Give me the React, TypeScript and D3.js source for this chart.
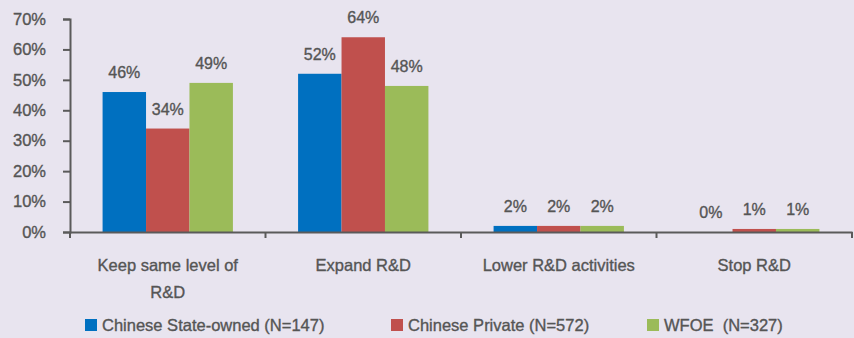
import React, { useEffect, useRef } from 'react';
import * as d3 from 'd3';

const categories = ['Keep same level of|R&D', 'Expand R&D', 'Lower R&D activities', 'Stop R&D'];
const seriesNames = ['Chinese State-owned (N=147)', 'Chinese Private (N=572)', 'WFOE  (N=327)'];
const stateOwned = [46, 52, 2, 0];
const privateCo = [34, 64, 2, 1];
const wfoe = [49, 48, 2, 1];
const yTicks = [0, 10, 20, 30, 40, 50, 60, 70];
const colors = ['#0070c0', '#c0504d', '#9bbb59'];

const App: React.FC = () => {
  const svgRef = useRef<SVGSVGElement | null>(null);

  useEffect(() => {
    if (!svgRef.current) return;
    document.body.style.margin = '0';

    const width = 854;
    const height = 338;
    const margin = { top: 19, right: 2, bottom: 106, left: 70 };
    const font = '"Liberation Sans", Arial, sans-serif';
    const textColor = '#555555';
    const series = [stateOwned, privateCo, wfoe];

    const svg = d3.select(svgRef.current).attr('width', width).attr('height', height);
    svg.selectAll('*').remove();

    svg.append('rect').attr('width', width).attr('height', height).attr('fill', '#e8e4ef');

    // shared text styling: a thin stroke thickens the glyphs a little
    const styleText = (sel: any, size: number) =>
      sel
        .attr('font-family', font)
        .attr('font-size', size)
        .attr('fill', textColor)
        .attr('stroke', textColor)
        .attr('stroke-width', 0.35);

    const x = d3
      .scaleBand()
      .domain(categories)
      .range([margin.left, width - margin.right]);
    const inner = d3
      .scaleBand()
      .domain(['0', '1', '2'])
      .range([0, x.bandwidth()])
      .paddingOuter(0.75);
    const y = d3
      .scaleLinear()
      .domain([0, 70])
      .range([height - margin.bottom, margin.top]);

    // bars
    series.forEach((vals, si) => {
      const g = svg.append('g');
      g.selectAll('rect')
        .data(vals)
        .enter()
        .append('rect')
        .attr('x', (_, i) => (x(categories[i]) as number) + (inner(String(si)) as number))
        .attr('y', (d) => y(d))
        .attr('width', inner.bandwidth())
        .attr('height', (d) => y(0) - y(d))
        .attr('fill', colors[si]);
      const labels = g
        .selectAll('text')
        .data(vals)
        .enter()
        .append('text')
        .attr('x', (_, i) => (x(categories[i]) as number) + (inner(String(si)) as number) + inner.bandwidth() / 2)
        .attr('y', (d) => y(d) - 14)
        .attr('text-anchor', 'middle')
        .text((d) => `${d}%`);
      styleText(labels, 16);
    });

    const axisColor = '#5a5a5a';

    // y axis
    const yAxis = svg
      .append('g')
      .attr('transform', `translate(${margin.left},0)`)
      .call(d3.axisLeft(y).tickValues(yTicks).tickSize(7).tickPadding(17).tickFormat((d) => `${d}%`));
    yAxis.select('.domain').attr('stroke', axisColor).attr('stroke-width', 2);
    yAxis.selectAll('.tick line').attr('stroke', axisColor).attr('stroke-width', 2);
    styleText(yAxis.selectAll('.tick text'), 16.5);

    // x axis
    const xAxis = svg
      .append('g')
      .attr('transform', `translate(0,${y(0)})`)
      .call(d3.axisBottom(x).tickSize(0).tickFormat(() => ''));
    xAxis.select('.domain').attr('stroke', axisColor).attr('stroke-width', 2);
    xAxis.selectAll('.tick').remove();
    const edges = [...categories.map((c) => x(c) as number), width - margin.right];
    xAxis
      .selectAll('line.edge')
      .data(edges)
      .enter()
      .append('line')
      .attr('class', 'edge')
      .attr('x1', (d) => d)
      .attr('x2', (d) => d)
      .attr('y1', 0)
      .attr('y2', 6)
      .attr('stroke', axisColor)
      .attr('stroke-width', 2);

    // category labels
    categories.forEach((c) => {
      const lines = c.split('|');
      const t = svg.append('text').attr('text-anchor', 'middle');
      styleText(t, 16.5);
      lines.forEach((ln, li) => {
        t.append('tspan')
          .attr('x', (x(c) as number) + x.bandwidth() / 2)
          .attr('y', 271 + li * 26.5)
          .text(ln);
      });
    });

    // legend
    const legendX = [85, 391, 647];
    seriesNames.forEach((name, i) => {
      svg
        .append('rect')
        .attr('x', legendX[i])
        .attr('y', 319)
        .attr('width', 12)
        .attr('height', 12)
        .attr('fill', colors[i]);
      const t = svg
        .append('text')
        .attr('x', legendX[i] + 17)
        .attr('y', 331)
        .style('white-space', 'pre')
        .text(name);
      styleText(t, 16.5);
    });
  }, []);

  return <svg ref={svgRef} style={{ display: 'block' }}></svg>;
};

export default App;
